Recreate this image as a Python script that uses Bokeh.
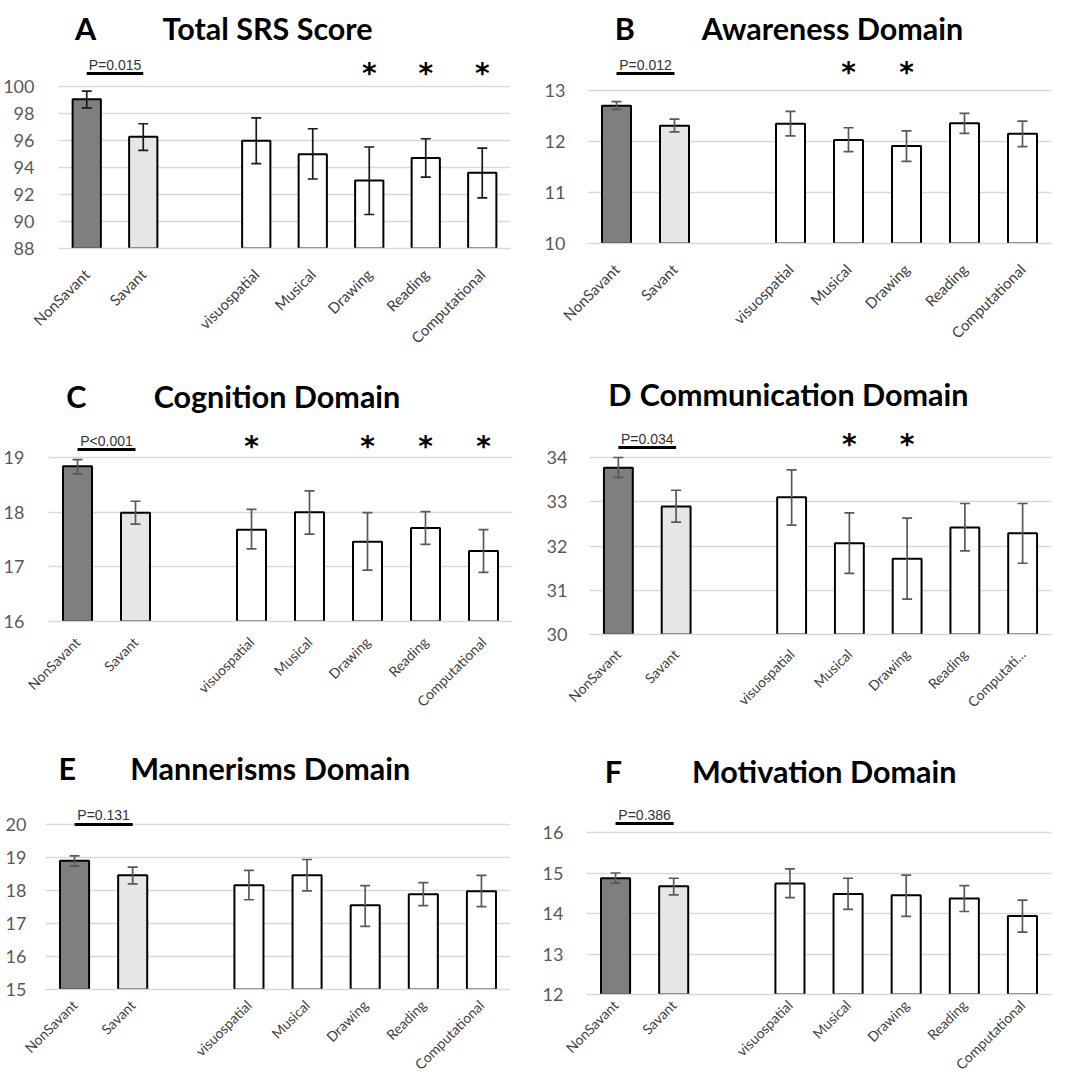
import math
from bokeh.plotting import figure
from bokeh.models import Range1d, FactorRange, FixedTicker, Label, ColumnDataSource
from bokeh.layouts import column, row
from bokeh.embed import file_html
from bokeh.resources import INLINE
from bokeh.core.properties import value

# ---------------- data ----------------
groups = ["NonSavant", "Savant"]
skills = ["visuospatial", "Musical", "Drawing", "Reading", "Computational"]
categories = groups + skills
SPACER = " "

bar_colors = ["#7f7f7f", "#e7e6e6", "white", "white", "white", "white", "white"]

srs_mean = [99.06, 96.28, 95.99, 94.98, 93.03, 94.70, 93.62]
srs_lo = [98.42, 95.27, 94.29, 93.15, 90.52, 93.28, 91.75]
srs_hi = [99.66, 97.24, 97.68, 96.87, 95.52, 96.13, 95.44]
srs_ticks = [88, 90, 92, 94, 96, 98, 100]
srs_stars = ["Drawing", "Reading", "Computational"]
srs_p = "P=0.015"

awa_mean = [12.70, 12.31, 12.35, 12.03, 11.91, 12.36, 12.15]
awa_lo = [12.63, 12.19, 12.11, 11.80, 11.61, 12.16, 11.90]
awa_hi = [12.78, 12.44, 12.59, 12.27, 12.21, 12.55, 12.40]
awa_ticks = [10, 11, 12, 13]
awa_stars = ["Musical", "Drawing"]
awa_p = "P=0.012"

cog_mean = [18.84, 17.99, 17.68, 18.00, 17.46, 17.71, 17.29]
cog_lo = [18.70, 17.78, 17.33, 17.60, 16.94, 17.41, 16.90]
cog_hi = [18.96, 18.20, 18.05, 18.39, 17.99, 18.01, 17.68]
cog_ticks = [16, 17, 18, 19]
cog_stars = ["visuospatial", "Drawing", "Reading", "Computational"]
cog_p = "P<0.001"

com_mean = [33.77, 32.89, 33.10, 32.06, 31.71, 32.42, 32.29]
com_lo = [33.55, 32.54, 32.47, 31.38, 30.80, 31.89, 31.61]
com_hi = [34.00, 33.26, 33.72, 32.75, 32.63, 32.96, 32.96]
com_ticks = [30, 31, 32, 33, 34]
com_stars = ["Musical", "Drawing"]
com_p = "P=0.034"
com_label_map = {"Computational": "Computati..."}

man_mean = [18.90, 18.46, 18.16, 18.46, 17.55, 17.89, 17.98]
man_lo = [18.74, 18.20, 17.72, 17.99, 16.91, 17.54, 17.51]
man_hi = [19.05, 18.71, 18.61, 18.94, 18.15, 18.24, 18.46]
man_ticks = [15, 16, 17, 18, 19, 20]
man_stars = []
man_p = "P=0.131"

mot_mean = [14.87, 14.67, 14.74, 14.48, 14.45, 14.37, 13.94]
mot_lo = [14.75, 14.46, 14.39, 14.10, 13.93, 14.05, 13.54]
mot_hi = [15.00, 14.87, 15.10, 14.87, 14.95, 14.69, 14.33]
mot_ticks = [12, 13, 14, 15, 16]
mot_stars = []
mot_p = "P=0.386"

# ---------------- layout specs (page pixel positions) ----------------
# box = (left, top, width, height) of the whole panel; hh = header height
panels = [
    dict(letter="A", title="Total SRS Score", mean=srs_mean, lo=srs_lo, hi=srs_hi, ticks=srs_ticks,
         stars=srs_stars, p=srs_p, box=(0, 0, 534, 360), hh=50, frame=(58, 510, 86, 248),
         title_xy=(247, 27), letter_x=32, star_y=67, ptext_y=69, pline_y=73, ystand=18,
         xfont="15px", xstand=17, err="#1a1a1a"),
    dict(letter="B", title="Awareness Domain", mean=awa_mean, lo=awa_lo, hi=awa_hi, ticks=awa_ticks,
         stars=awa_stars, p=awa_p, box=(534, 0, 534, 360), hh=50, frame=(587, 1051, 90, 243),
         title_xy=(816, 27), letter_x=577, star_y=66, ptext_y=69, pline_y=73, ystand=16,
         xfont="15px", xstand=17, err="#595959"),
    dict(letter="C", title="Cognition Domain", mean=cog_mean, lo=cog_lo, hi=cog_hi, ticks=cog_ticks,
         stars=cog_stars, p=cog_p, box=(0, 360, 534, 360), hh=55, frame=(48, 512, 457, 621),
         title_xy=(263, 395), letter_x=32, star_y=440, ptext_y=445, pline_y=449, ystand=18,
         xfont="14px", xstand=12, err="#595959"),
    dict(letter="D", title="Communication Domain", mean=com_mean, lo=com_lo, hi=com_hi, ticks=com_ticks,
         stars=com_stars, p=com_p, box=(534, 360, 534, 360), hh=55, frame=(589, 1051, 457, 634),
         title_xy=(782, 393), letter_x=569, star_y=438, ptext_y=443, pline_y=447, ystand=16,
         xfont="14px", xstand=11, err="#595959", label_map=com_label_map),
    dict(letter="E", title="Mannerisms Domain", mean=man_mean, lo=man_lo, hi=man_hi, ticks=man_ticks,
         stars=man_stars, p=man_p, box=(0, 720, 534, 362), hh=75, frame=(45, 510, 824, 989),
         title_xy=(258, 767), letter_x=25, star_y=805, ptext_y=819, pline_y=824, ystand=13,
         xfont="14px", xstand=7, err="#595959"),
    dict(letter="F", title="Motivation Domain", mean=mot_mean, lo=mot_lo, hi=mot_hi, ticks=mot_ticks,
         stars=mot_stars, p=mot_p, box=(534, 720, 534, 362), hh=75, frame=(586, 1051, 832, 994),
         title_xy=(807, 770), letter_x=565, star_y=805, ptext_y=819, pline_y=823, ystand=17,
         xfont="14px", xstand=2, err="#595959"),
]


def make_header(s):
    x0, y0, W, H = s["box"]
    hh = s["hh"]
    h = figure(width=W, height=hh, x_range=Range1d(x0, x0 + W), y_range=Range1d(y0 + hh, y0),
               x_axis_type=None, y_axis_type=None, output_backend="svg", toolbar_location=None,
               min_border=0)
    h.outline_line_color = None
    h.xgrid.grid_line_color = None
    h.ygrid.grid_line_color = None
    tx, ty = s["title_xy"]
    h.text(x=[tx, s["letter_x"]], y=[ty, ty], text=[s["title"], s["letter"]],
           text_font=value("Lato"), text_font_style="bold", text_font_size="30.5px",
           text_color="black", text_align="center", text_baseline="middle")
    return h


def make_chart(s):
    x0, y0, W, H = s["box"]
    hh = s["hh"]
    fy = y0 + hh
    CH = H - hh
    fl, fr, yt, yb = s["frame"]
    ticks = s["ticks"]
    ymin, ymax = ticks[0], ticks[-1]
    upp = (ymax - ymin) / (yb - yt)

    lm = s.get("label_map", {})
    cats = [lm.get(c, c) for c in categories]
    g = [lm.get(c, c) for c in groups]
    sk = [lm.get(c, c) for c in skills]
    factors = g + [SPACER] + sk
    stars = [lm.get(c, c) for c in s["stars"]]

    def dy(py):
        return ymin + (yb - py) * upp

    p = figure(width=W, height=CH,
               x_range=FactorRange(factors=factors, range_padding=0, factor_padding=0),
               y_range=Range1d(ymin, dy(fy)),
               output_backend="svg", toolbar_location=None,
               min_border_left=fl - x0, min_border_right=x0 + W - fr,
               min_border_top=0, min_border_bottom=y0 + H - yb)
    p.outline_line_color = None
    p.background_fill_color = "white"
    p.border_fill_color = "white"
    p.xgrid.grid_line_color = None
    p.ygrid.grid_line_color = "#d9d9d9"
    p.ygrid.grid_line_width = 1.5

    p.yaxis.ticker = FixedTicker(ticks=ticks)
    p.yaxis.axis_line_color = None
    p.yaxis.major_tick_line_color = None
    p.yaxis.minor_tick_line_color = None
    p.yaxis.major_label_text_font = "Lato"
    p.yaxis.major_label_text_font_size = "18px"
    p.yaxis.major_label_text_color = "#595959"
    p.yaxis.major_label_standoff = s["ystand"]

    p.xaxis.axis_line_color = "#d9d9d9"
    p.xaxis.axis_line_width = 1.5
    p.xaxis.major_tick_line_color = None
    p.xaxis.minor_tick_line_color = None
    p.xaxis.major_label_orientation = math.pi / 4
    p.xaxis.major_label_text_font = "Lato"
    p.xaxis.major_label_text_font_size = s["xfont"]
    p.xaxis.major_label_text_color = "#404040"
    p.xaxis.major_label_standoff = s["xstand"]

    src = ColumnDataSource(dict(cat=cats, mean=s["mean"], lo=s["lo"], hi=s["hi"], fill=bar_colors))
    p.vbar(x="cat", top="mean", bottom=ymin, width=0.5, fill_color="fill",
           line_color="black", line_width=2, source=src)
    p.segment(x0="cat", y0="lo", x1="cat", y1="hi", line_color=s["err"], line_width=1.7, source=src)
    p.scatter(x="cat", y="hi", marker="dash", size=10, line_color=s["err"], line_width=1.7, source=src)
    p.scatter(x="cat", y="lo", marker="dash", size=10, line_color=s["err"], line_width=1.7, source=src)

    # significance stars
    if stars:
        n = len(stars)
        p.text(x=stars, y=[dy(s["star_y"] + 6)] * n, text=["*"] * n,
               text_font=value("DejaVu Sans"), text_font_style="bold", text_font_size="28px",
               text_align="center", text_baseline="middle", text_color="black")

    # p-value bracket between the two groups
    p.segment(x0=[g[0]], y0=[dy(s["pline_y"])], x1=[g[1]], y1=[dy(s["pline_y"])],
              line_color="black", line_width=3)
    mid = factors.index(g[0]) + 1.0
    p.add_layout(Label(x=mid, y=dy(s["ptext_y"] - 5), text=s["p"], text_font="Liberation Sans",
                       text_font_size="14px", text_color="#333333", text_align="center",
                       text_baseline="middle"))
    return p


cells = [column(make_header(s), make_chart(s)) for s in panels]
layout = column(row(cells[0], cells[1]), row(cells[2], cells[3]), row(cells[4], cells[5]))

open("out.html", "w").write(file_html(layout, INLINE))
